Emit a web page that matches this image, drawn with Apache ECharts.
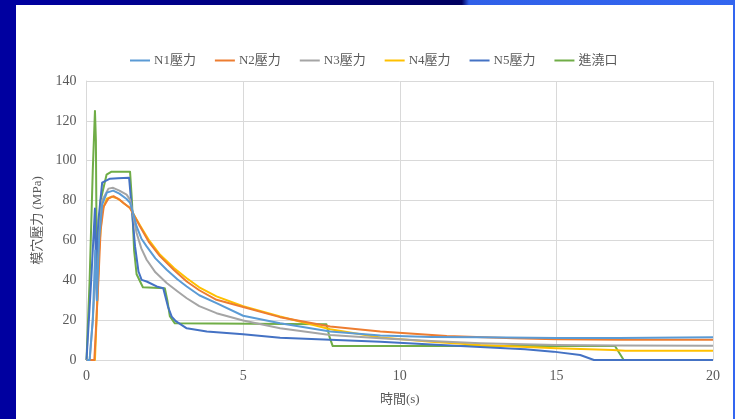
<!DOCTYPE html>
<html>
<head>
<meta charset="utf-8">
<script src="https://cdn.jsdelivr.net/npm/echarts@6/dist/echarts.min.js"></script>
<style>
html,body{margin:0;padding:0;width:735px;height:419px;overflow:hidden;background:#fff;}
#bgL{position:absolute;left:0;top:0;width:16px;height:419px;background:#0000A0;}
#bgT{position:absolute;left:16px;top:0;width:719px;height:5px;background:linear-gradient(90deg,#0000A0 0%,#000060 62%,#3060E8 63%,#3366F0 100%);}
#bgR{position:absolute;left:733px;top:0;width:2px;height:419px;background:#3366F0;}
#chart{position:absolute;left:0;top:0;width:735px;height:419px;}
</style>
</head>
<body>
<div id="bgL"></div><div id="bgT"></div><div id="bgR"></div>
<div id="chart"></div>
<script>
var seriesNames = ['N1壓力','N2壓力','N3壓力','N4壓力','N5壓力','進澆口'];
var xTicks = [0,5,10,15,20];
var yTicks = [0,20,40,60,80,100,120,140];

var n1T = [0,0.1,0.2,0.28,0.33,0.4,0.5,0.65,0.85,1.05,1.28,1.39,1.5,1.6,1.75,1.92,2.2,2.56,2.9,3.2,3.6,4.15,5,6.18,7.78,9.38,11,12.57,15,17,20];
var n1V = [0,0,20,55,30,60,78,84,85,83.5,80.8,78.8,73,67,61,57,51,45.3,40.5,36.9,32.5,28.5,22.2,18.4,14.3,12.3,11.6,11.4,11,11,11.4];

var n2T = [0,0.25,0.3,0.38,0.45,0.55,0.7,0.86,1.05,1.2,1.39,1.71,2.0,2.35,2.8,3.2,3.6,4.15,5,6.18,7.78,9.38,11.5,13.63,15,17,20];
var n2V = [0,0,15,40,65,77,81,82.2,80.5,78.5,76.3,67,59,52,45,39.4,35,30.2,26.6,21.5,16.8,14.3,12.1,10.9,10.4,10.2,10.1];

var n3T = [0,0.1,0.2,0.3,0.35,0.42,0.5,0.7,0.85,1.05,1.28,1.39,1.5,1.6,1.75,1.92,2.2,2.56,2.9,3.2,3.6,4.15,5,6.18,7.78,9.38,11,12.57,15,17,20];
var n3V = [0,0,20,45,30,65,80,86,86.4,85,83,80.5,72,63.7,56,50.3,44,38.6,34.5,31,27,23.5,19.8,15.9,12.6,10.9,9.5,8.4,7.5,7.3,7.2];

var n4T = [0,0.27,0.32,0.4,0.5,0.65,0.8,1.0,1.2,1.39,1.71,2.0,2.35,2.8,3.2,3.6,4.15,5,6.18,7.78,9.38,11,12.57,15,16.8,17.2,20];
var n4V = [0,0,20,55,75,81,82,81,78.5,76.3,67.5,60,52.8,46,41,36.5,31.9,27,21.8,15.4,11.3,9.2,7.5,5.9,5.0,4.7,4.6];

var n5T = [0,0.05,0.15,0.27,0.3,0.38,0.5,0.75,1.0,1.36,1.45,1.55,1.66,1.76,1.92,2.24,2.45,2.6,2.72,2.85,3.2,3.84,5,6.18,7.78,9.38,11,12.57,14,14.9,15.76,16.2,20];
var n5V = [0,0,40,76,45,70,89,91,91.2,91.4,75,57,44.4,40.2,39.4,36.9,36,26.8,21.8,19.5,15.9,14.3,12.9,11.2,10.1,9.2,7.8,6.5,5.4,4.2,2.5,0,0];

var gateT = [0,0.03,0.1,0.2,0.27,0.3,0.33,0.4,0.45,0.64,0.8,1.39,1.45,1.52,1.6,1.8,2.5,2.58,2.66,2.82,7.66,7.75,7.86,16.87,17.15,20];
var gateV = [0,0,40,95,125,110,40,65,80,93,94.5,94.5,80,55,43,36.5,36,30,22,18.4,18,12,7,7,0,0];

var colors = ['#5B9BD5','#ED7D31','#A5A5A5','#FFC000','#4472C4','#70AD47'];
var tList = [n1T,n2T,n3T,n4T,n5T,gateT];
var vList = [n1V,n2V,n3V,n4V,n5V,gateV];

function pairs(t,v){var r=[];for(var i=0;i<t.length;i++){r.push([t[i],v[i]]);}return r;}

var font = "'Liberation Serif','Noto Sans CJK TC',serif";
var series = seriesNames.map(function(n,i){
  return {name:n,type:'line',data:pairs(tList[i],vList[i]),showSymbol:false,symbol:'none',
    smooth:false,lineStyle:{color:colors[i],width:2,join:'round'},itemStyle:{color:colors[i]},z:10-i};
});

var chart = echarts.init(document.getElementById('chart'),null,{renderer:'canvas'});
chart.setOption({
  backgroundColor:'transparent',
  animation:false,
  color:colors,
  grid:{left:86.5,right:22,top:81,bottom:59,containLabel:false},
  legend:{left:125,top:49,itemWidth:20,itemHeight:2,itemGap:19,icon:'rect',
    data:seriesNames,textStyle:{fontFamily:font,fontSize:13,color:'#595959',padding:[0,0,0,-1]}},
  xAxis:{type:'value',min:0,max:20,interval:5,
    name:'時間(s)',nameLocation:'middle',nameGap:33,
    nameTextStyle:{fontFamily:font,fontSize:13,color:'#595959'},
    axisLine:{show:true,lineStyle:{color:'#D9D9D9',width:1}},
    axisTick:{show:false},
    axisLabel:{fontFamily:font,fontSize:14,color:'#595959',margin:9},
    splitLine:{show:true,lineStyle:{color:'#D9D9D9',width:1}}},
  yAxis:{type:'value',min:0,max:140,interval:20,
    name:'模穴壓力 (MPa)',nameLocation:'middle',nameGap:42,nameRotate:90,
    nameTextStyle:{fontFamily:font,fontSize:13,color:'#595959'},
    axisLine:{show:true,lineStyle:{color:'#D9D9D9',width:1}},
    axisTick:{show:false},
    axisLabel:{fontFamily:font,fontSize:14,color:'#595959',margin:10},
    splitLine:{show:true,lineStyle:{color:'#D9D9D9',width:1}}},
  series:series
});
</script>
</body>
</html>
